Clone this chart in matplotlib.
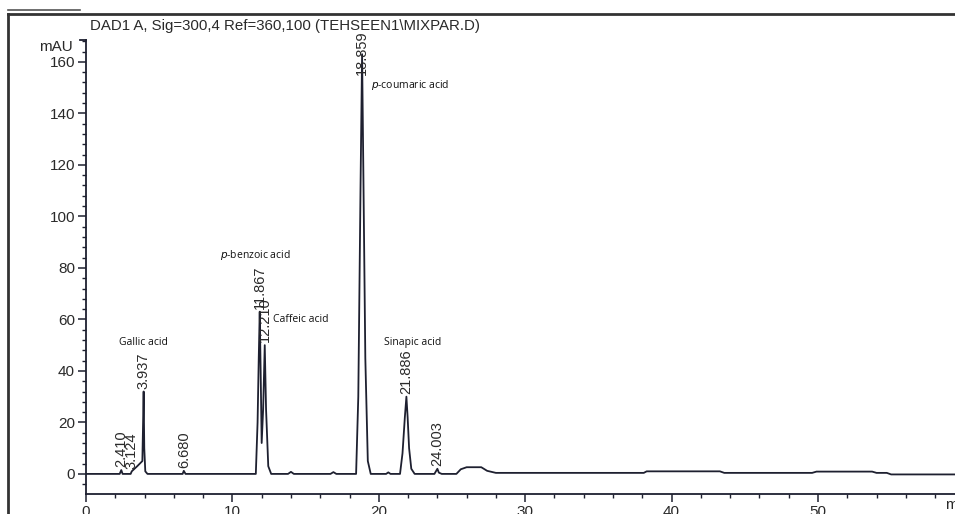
import matplotlib
matplotlib.use('Agg')
import matplotlib.pyplot as plt
from matplotlib.lines import Line2D
from matplotlib.ticker import MultipleLocator

# chromatogram trace (time in min, signal in mAU)
time = [0, 2.30, 2.41, 2.50, 3.05, 3.124, 3.50, 3.85, 3.90, 3.937, 3.98, 4.05, 4.20,
        6.60, 6.68, 6.80,
        11.60, 11.72, 11.80, 11.867, 11.93, 12.00, 12.10, 12.21, 12.30, 12.45, 12.65,
        13.80, 14.00, 14.20, 16.70, 16.90, 17.10,
        18.45, 18.60, 18.75, 18.859, 18.95, 19.08, 19.25, 19.45,
        20.50, 20.65, 20.80, 21.45, 21.62, 21.78, 21.886, 21.97, 22.07, 22.22, 22.45,
        23.80, 24.003, 24.10, 24.30,
        25.30, 25.60, 26.00, 27.00, 27.40, 28.00,
        38.10, 38.30, 43.30, 43.60, 49.60, 49.90, 53.70, 54.00, 54.70, 55.00, 59.40]
signal = [0, 0, 1.5, 0, 0, 1.0, 3.0, 5.0, 20, 32, 10, 1.0, 0,
          0, 1.2, 0,
          0, 20, 45, 63, 40, 12, 25, 50, 25, 3, 0,
          0, 0.8, 0, 0, 0.7, 0,
          0, 30, 110, 163, 115, 45, 5, 0,
          0, 0.6, 0, 0, 8, 22, 30, 22, 10, 2, 0,
          0, 2.0, 0.5, 0,
          0, 1.8, 2.6, 2.6, 1.2, 0.4,
          0.4, 1.0, 1.0, 0.4, 0.4, 0.9, 0.9, 0.4, 0.4, -0.2, -0.2]

# integrated peaks: retention time and apex height
rt_labels = ['2.410', '3.124', '3.937', '6.680', '11.867', '12.210', '18.859', '21.886', '24.003']
rt_heights = [1.5, 1.0, 32, 1.2, 63, 50, 154, 30, 2.0]

compounds = ['Gallic acid', '$\\it{p}$-benzoic acid', 'Caffeic acid', '$\\it{p}$-coumaric acid', 'Sinapic acid']
compound_x = [3.9, 11.55, 14.7, 19.45, 22.3]
compound_y = [51, 85, 60, 151, 51]

line_col = '#1e2030'
txt_col = '#2a2a2a'

fig = plt.figure(figsize=(9.55, 5.14), dpi=100)
ax = fig.add_axes([86 / 955, 20 / 514, (955 - 86) / 955, (494 - 40) / 514])

ax.plot(time, signal, color=line_col, lw=1.3)

for lab, h in zip(rt_labels, rt_heights):
    ax.annotate(lab, (float(lab), h), xytext=(0, 2), textcoords='offset points',
                rotation=90, ha='center', va='bottom', fontsize=10.5,
                family='Liberation Sans', color=txt_col)

for name, x, y in zip(compounds, compound_x, compound_y):
    ha = 'left' if 'coumaric' in name else 'center'
    ax.text(x, y, name, fontsize=7.5, family='Open Sans', color='#111', ha=ha, va='center')

ax.set_xlim(0, 59.36)
ax.set_ylim(-7.8, 168.5)
ax.xaxis.set_major_locator(MultipleLocator(10))
ax.xaxis.set_minor_locator(MultipleLocator(2))
ax.yaxis.set_major_locator(MultipleLocator(20))
ax.yaxis.set_minor_locator(MultipleLocator(4))
ax.set_yticks(range(0, 161, 20))
ax.tick_params(which='major', length=6, width=1.1, color=line_col, labelsize=11,
               labelcolor=txt_col, pad=2)
ax.tick_params(which='minor', length=3, width=1.0, color=line_col)
for lbl in ax.get_xticklabels() + ax.get_yticklabels():
    lbl.set_family('Liberation Sans')

for s in ['top', 'right']:
    ax.spines[s].set_visible(False)
for s in ['left', 'bottom']:
    ax.spines[s].set_color(line_col)
    ax.spines[s].set_linewidth(1.3)

# small bracket at the top of the y axis
ax.plot([-0.007, 0], [1, 1], transform=ax.transAxes, color=line_col, lw=1.3, clip_on=False)
ax.text(-0.015, 0.985, 'mAU', transform=ax.transAxes, ha='right', va='center',
        fontsize=11, family='Liberation Sans', color=txt_col)
fig.text(945 / 955, 2 / 514, 'min', ha='left', va='bottom', fontsize=11,
         family='Liberation Sans', color=txt_col)

fig.text(90 / 955, 1 - 26 / 514, 'DAD1 A, Sig=300,4 Ref=360,100 (TEHSEEN1\\MIXPAR.D)',
         ha='left', va='center', fontsize=10.8, family='Liberation Sans', color=txt_col)

# report frame
fig.add_artist(Line2D([8 / 955, 1], [1 - 14 / 514, 1 - 14 / 514], color='#333', lw=2))
fig.add_artist(Line2D([8 / 955, 8 / 955], [0, 1 - 14 / 514], color='#333', lw=2))
fig.add_artist(Line2D([8 / 955, 80 / 955], [1 - 10 / 514, 1 - 10 / 514], color='#555', lw=1.2))

fig.savefig('out.png', dpi=100)
